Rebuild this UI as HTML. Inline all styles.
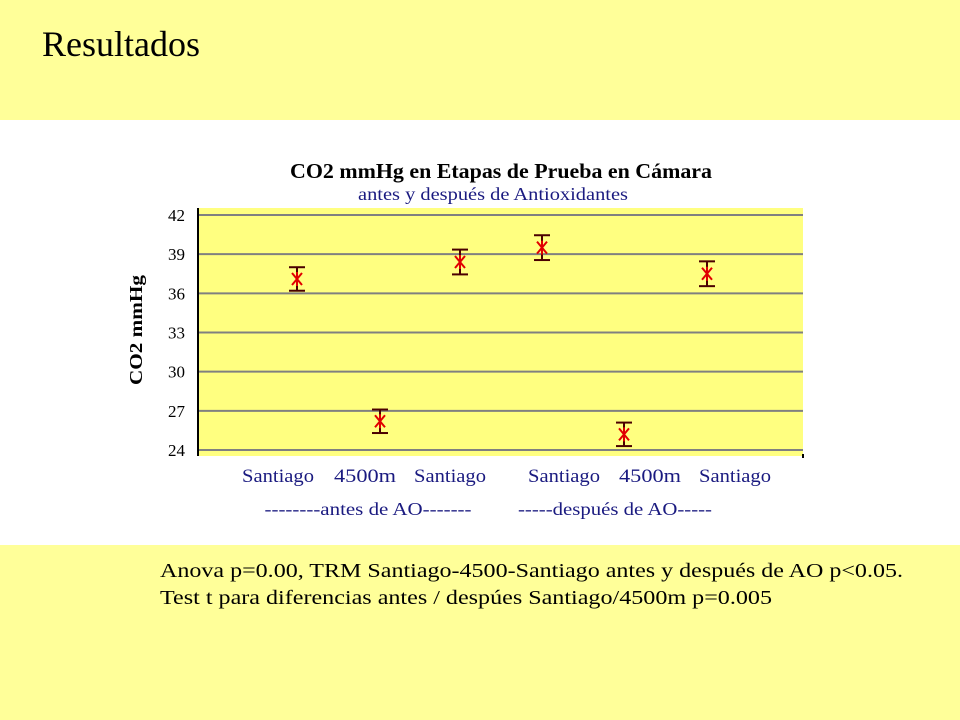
<!DOCTYPE html>
<html><head><meta charset="utf-8"><style>
body{margin:0;width:960px;height:720px;overflow:hidden;font-family:"Liberation Serif",serif;background:#fff}
.band{position:absolute;left:0;width:960px;background:#ffff99}
</style></head><body>
<div class="band" style="top:0;height:120px"></div>
<div class="band" style="top:545px;height:175px"></div>
<svg id="chart" width="960" height="720" style="position:absolute;left:0;top:0" font-family="Liberation Serif, serif"></svg>
<script>
const categories=["Santiago","4500m","Santiago","Santiago","4500m","Santiago"];
const means=[37.1,26.2,38.4,39.5,25.2,37.5];
const errs=[0.9,0.9,0.95,0.95,0.9,0.95];
const yTicks=[24,27,30,33,36,39,42];
const groupLabels=["--------antes de AO-------","-----después de AO-----"];
const NS="http://www.w3.org/2000/svg";
const svg=document.getElementById('chart');
function el(t,a,p){const e=document.createElementNS(NS,t);for(const k in a)e.setAttribute(k,a[k]);(p||svg).appendChild(e);return e;}
const L=198,R=803,T=208,B=456;
const y=v=>450-(v-24)*(450-215)/18;
const xPts=[297,380,460,542,624,707];
const x=i=>xPts[i];
const labelX=[278,365,450,564,650,735];
const labelW=[72,62,72,72,62,72];
let title=el('text',{x:42,y:56,'font-size':36,fill:'#000',textLength:158,lengthAdjust:'spacingAndGlyphs'});title.textContent='Resultados';

let f1=el('text',{x:160,y:577,'font-size':20,fill:'#000',textLength:743,lengthAdjust:'spacingAndGlyphs'});f1.textContent='Anova p=0.00, TRM Santiago-4500-Santiago antes y después de AO p<0.05.';

let f2=el('text',{x:160,y:604,'font-size':20,fill:'#000',textLength:612,lengthAdjust:'spacingAndGlyphs'});f2.textContent='Test t para diferencias antes / despúes Santiago/4500m p=0.005';

let r=el('rect',{x:L,y:T,width:R-L,height:B-T,fill:'#ffff80'});

yTicks.forEach(v=>{
 let g=el('line',{x1:L,x2:R,y1:y(v),y2:y(v),stroke:'#808080','stroke-width':2});
 
 let t=el('text',{x:185,y:y(v)+6,'text-anchor':'end','font-size':17,fill:'#000'});t.textContent=v;
 
});
let ax=el('line',{x1:L,x2:L,y1:T,y2:B,stroke:'#000','stroke-width':2});

let ax2=el('line',{x1:R,x2:R,y1:B-2,y2:B+2,stroke:'#000','stroke-width':2});

means.forEach((m,i)=>{
 const cx=x(i),t1=y(m+errs[i]),t2=y(m-errs[i]);
 const g=el('g',{});
 
 el('line',{x1:cx,x2:cx,y1:t1,y2:t2,stroke:'#4a0000','stroke-width':2},g);
 el('line',{x1:cx-8,x2:cx+8,y1:t1,y2:t1,stroke:'#4a0000','stroke-width':2},g);
 el('line',{x1:cx-8,x2:cx+8,y1:t2,y2:t2,stroke:'#4a0000','stroke-width':2},g);
 const cy=y(m);
 el('path',{d:`M${cx-5} ${cy-6}L${cx+5} ${cy+6}M${cx+5} ${cy-6}L${cx-5} ${cy+6}M${cx} ${cy-7}L${cx} ${cy+7}`,stroke:'#e00000','stroke-width':2},g);
});
categories.forEach((c,i)=>{
 let t=el('text',{x:labelX[i],y:482,'text-anchor':'middle','font-size':19,fill:'#1a1a80',textLength:labelW[i],lengthAdjust:'spacingAndGlyphs'});t.textContent=c;
 
});
[[368,207],[615,194]].forEach((p,i)=>{
 let t=el('text',{x:p[0],y:515,'text-anchor':'middle','font-size':18,fill:'#1a1a80',textLength:p[1],lengthAdjust:'spacingAndGlyphs'});t.textContent=groupLabels[i];
 
});
let tt=el('text',{x:501,y:178,'text-anchor':'middle','font-size':21,'font-weight':'bold',fill:'#000',textLength:422,lengthAdjust:'spacingAndGlyphs'});tt.textContent='CO2 mmHg en Etapas de Prueba en Cámara';

let st=el('text',{x:493,y:200,'text-anchor':'middle','font-size':18,fill:'#1a1a80',textLength:270,lengthAdjust:'spacingAndGlyphs'});st.textContent='antes y después de Antioxidantes';

let yt=el('text',{x:0,y:0,'text-anchor':'middle','font-size':18,'font-weight':'bold',fill:'#000',transform:'translate(142,330) rotate(-90)',textLength:110,lengthAdjust:'spacingAndGlyphs'});yt.textContent='CO2 mmHg';

</script>
</body></html>
